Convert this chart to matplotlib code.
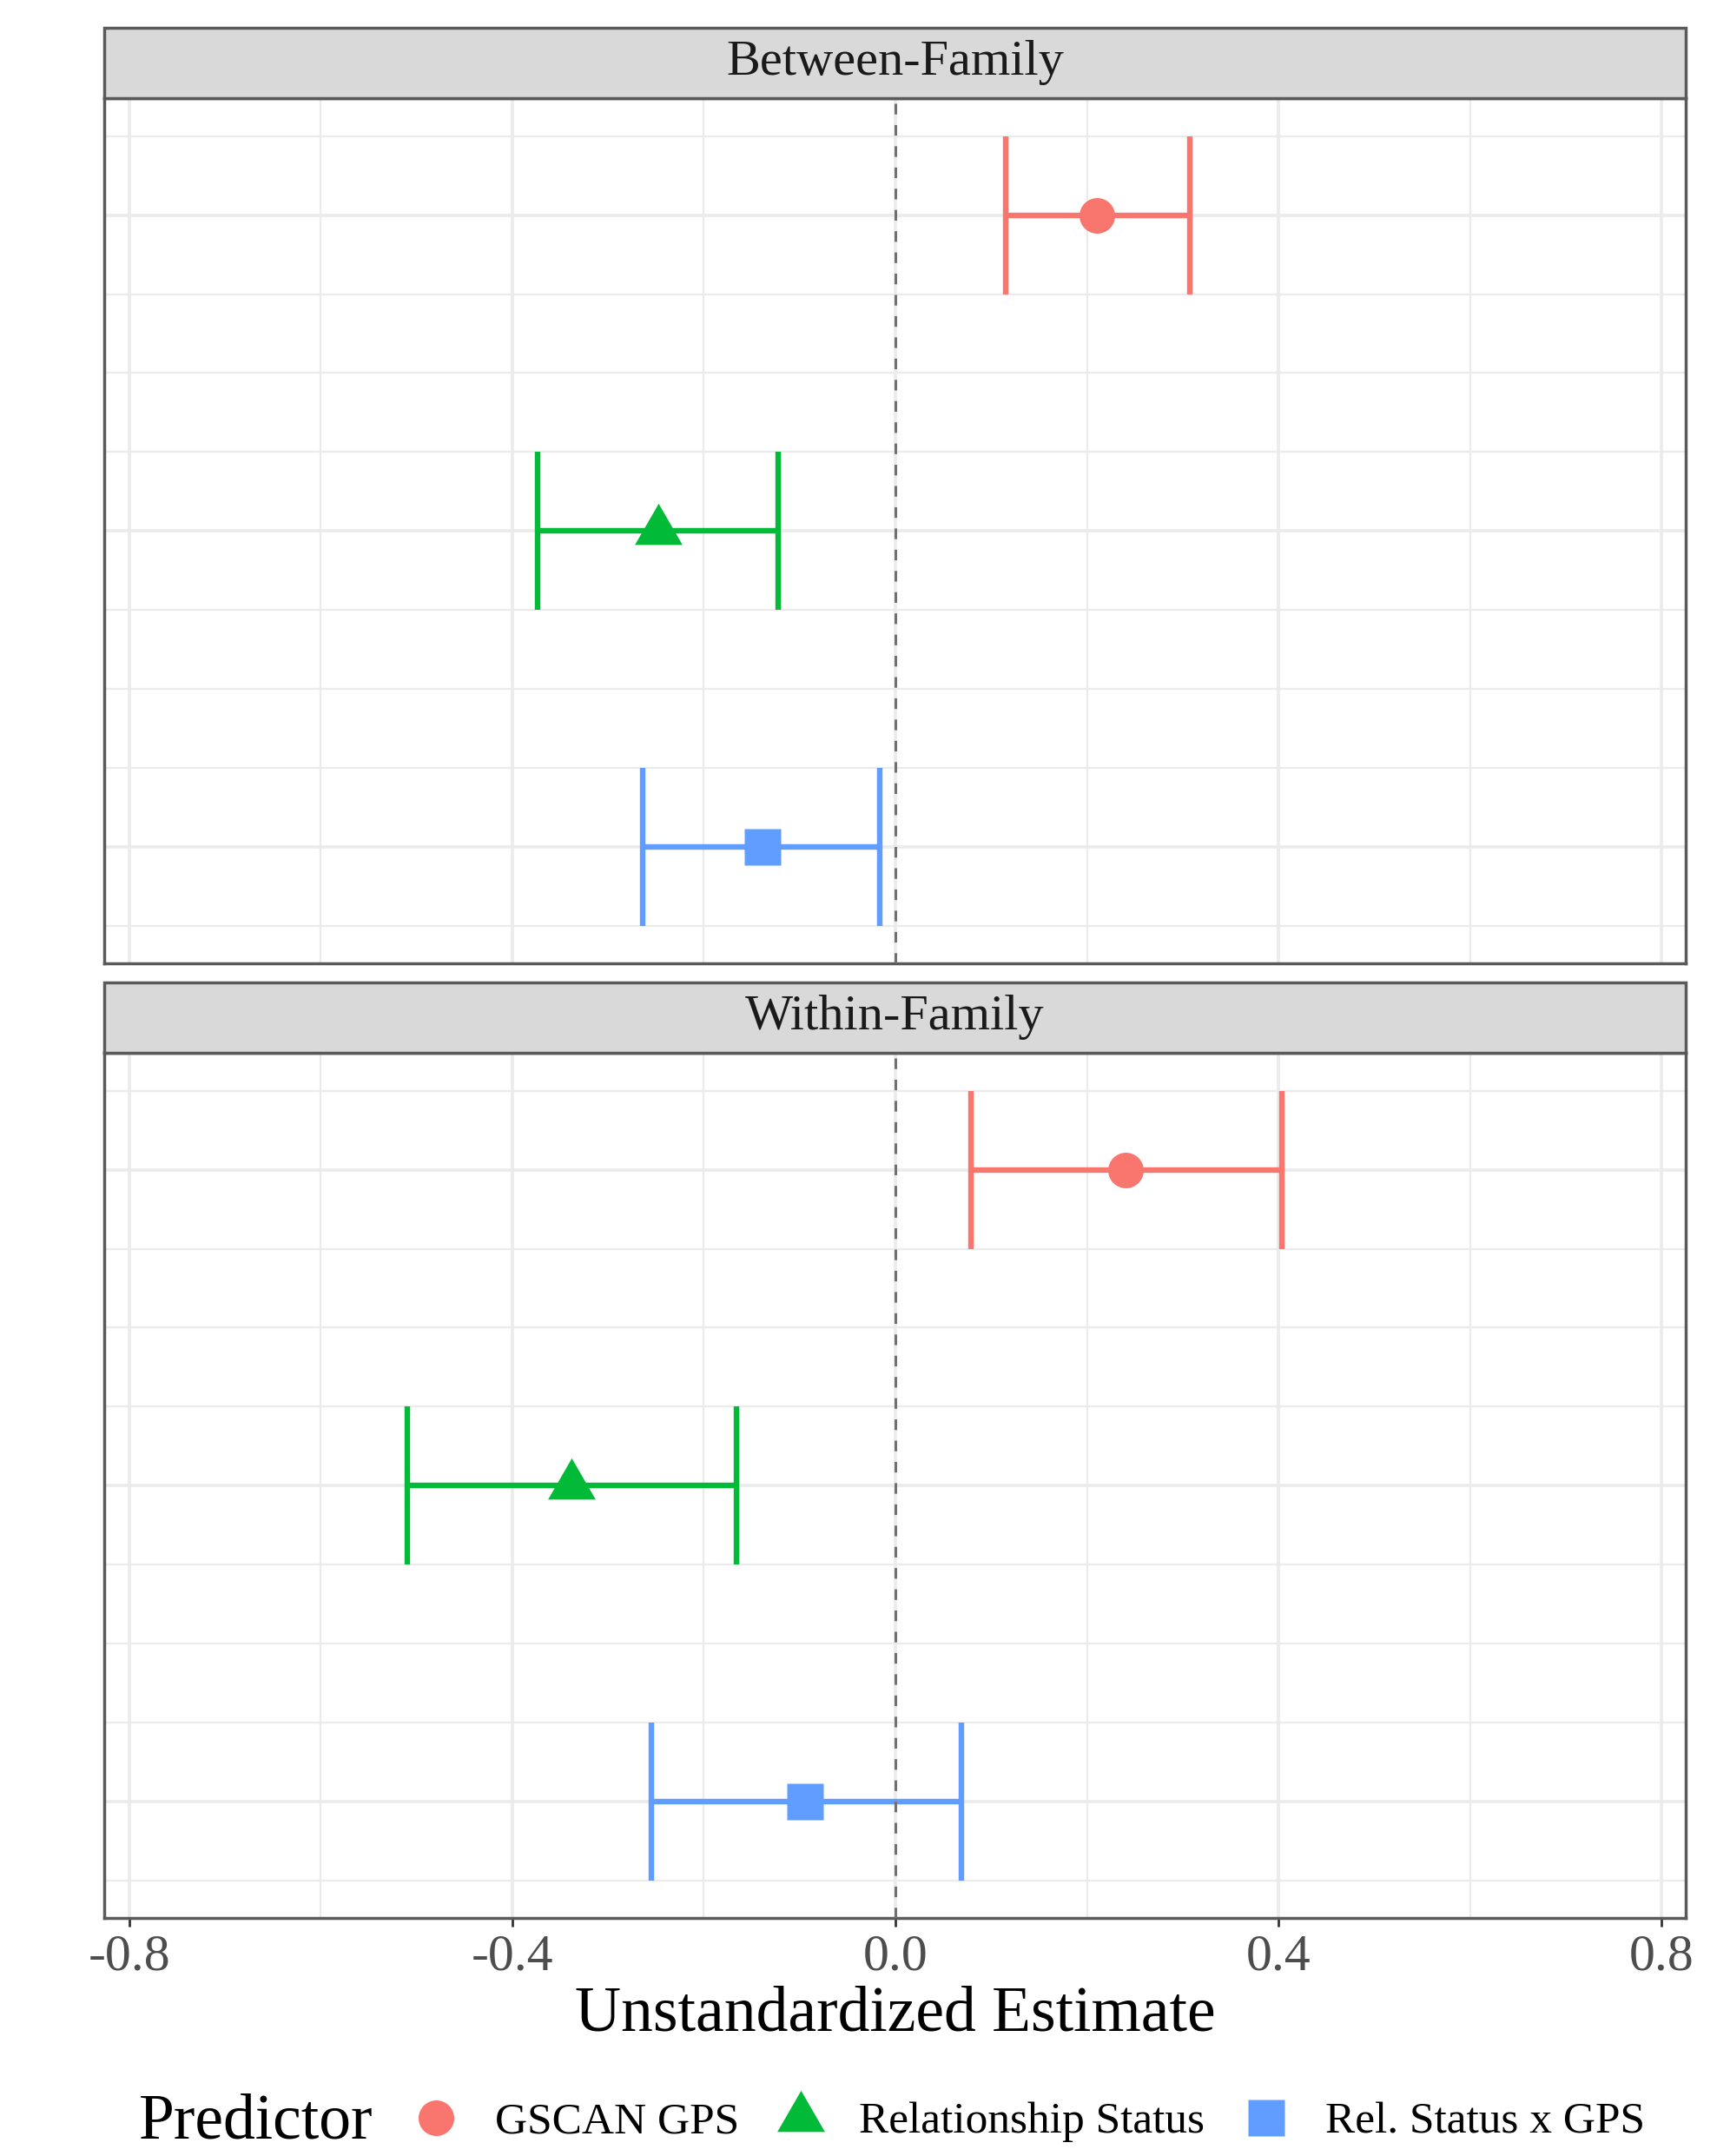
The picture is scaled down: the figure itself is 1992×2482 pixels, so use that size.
import numpy as np
import matplotlib
matplotlib.use("Agg")
import matplotlib.pyplot as plt
from matplotlib.patches import Rectangle
from matplotlib.path import Path
from matplotlib.lines import Line2D

plt.rcParams['font.family'] = ['Liberation Serif', 'DejaVu Serif']

# datos
predictors = ['GSCAN GPS', 'Relationship Status', 'Rel. Status x GPS']
colors = ['#F8766D', '#00BA38', '#619CFF']
panels = ['Between-Family', 'Within-Family']
ypos = [3, 2, 1]

between_est = [0.210, -0.248, -0.139]
between_lo = [0.115, -0.374, -0.264]
between_hi = [0.307, -0.122, -0.016]

within_est = [0.240, -0.338, -0.094]
within_lo = [0.079, -0.510, -0.255]
within_hi = [0.403, -0.166, 0.069]

xticks = [-0.8, -0.4, 0.0, 0.4, 0.8]
xminor = [-0.6, -0.2, 0.2, 0.6]

# triangulo equilatero centrado en el centroide (como ggplot shape 17)
tri = Path([(0, 0.577), (-0.5, -0.289), (0.5, -0.289), (0, 0.577)],
           [Path.MOVETO, Path.LINETO, Path.LINETO, Path.CLOSEPOLY])
markers = ['o', tri, 's']
msizes = [29.5, 45.5, 30]

W, H = 1992, 2482
fig = plt.figure(figsize=(W / 100, H / 100), dpi=100)

border = '#5a5a5a'
grid_c = '#EBEBEB'

def panel(ax, title, est, lo, hi, show_x):
    ax.set_xlim(-0.826, 0.825)
    ax.set_ylim(0.632, 3.37)
    # rejilla
    for x in xticks:
        ax.axvline(x, color=grid_c, lw=2.6, zorder=0)
    for x in xminor:
        ax.axvline(x, color=grid_c, lw=1.6, zorder=0)
    for y in np.arange(0.75, 3.3, 0.25):
        lw = 2.6 if abs(y - round(y)) < 1e-6 else 1.6
        ax.axhline(y, color=grid_c, lw=lw, zorder=0)
    # barras de error y puntos
    for i in range(3):
        y = ypos[i]
        ax.hlines(y, lo[i], hi[i], color=colors[i], lw=4.6, zorder=2)
        ax.vlines([lo[i], hi[i]], y - 0.25, y + 0.25, color=colors[i], lw=4.6, zorder=2)
        ax.plot(est[i], y, marker=markers[i], ms=msizes[i], color=colors[i],
                mec='none', ls='none', zorder=3)
    ax.axvline(0, color='#707070', lw=2.2, dashes=(4, 4), zorder=4)
    ax.set_yticks([])
    ax.set_xticks(xticks)
    if show_x:
        ax.set_xticklabels(['-0.8', '-0.4', '0.0', '0.4', '0.8'])
        ax.tick_params(axis='x', length=7, width=2, color='#333333', pad=6,
                       labelsize=43, labelcolor='#4D4D4D')
    else:
        ax.tick_params(axis='x', length=0, labelbottom=False)
    for s in ax.spines.values():
        s.set_color(border)
        s.set_linewidth(2.5)
    # franja del facet
    sh = 81 / 996
    ax.add_patch(Rectangle((0, 1), 1, sh, transform=ax.transAxes, facecolor='#D9D9D9',
                           edgecolor=border, lw=2.5, clip_on=False, zorder=5))
    ax.text(0.5, 1 + sh / 2, title, transform=ax.transAxes, ha='center', va='center',
            fontsize=42, color='#1A1A1A', zorder=6)

left, right = 120 / W, 1941 / W
ax1 = fig.add_axes([left, 1 - 1109 / H, right - left, 996 / H])
ax2 = fig.add_axes([left, 1 - 2208 / H, right - left, 996 / H])

panel(ax1, panels[0], between_est, between_lo, between_hi, False)
panel(ax2, panels[1], within_est, within_lo, within_hi, True)

ax2.set_xlabel('Unstandardized Estimate', fontsize=53, color='black')
ax2.xaxis.set_label_coords(0.5, -0.078)

# leyenda
fig.text(160 / W, 1 - 2462 / H, 'Predictor', fontsize=53, va='baseline', ha='left')
handles = [Line2D([], [], marker=markers[i], ms=msizes[i], color=colors[i], mec='none', ls='none')
           for i in range(3)]
fig.legend(handles, predictors, loc='center left', bbox_to_anchor=(476 / W, 1 - 2443 / H),
           ncol=3, frameon=False, fontsize=37, handlelength=1.0, handletextpad=0.82,
           columnspacing=0.88, borderpad=0, borderaxespad=0)

fig.savefig('out.png', dpi=100, facecolor='white')
